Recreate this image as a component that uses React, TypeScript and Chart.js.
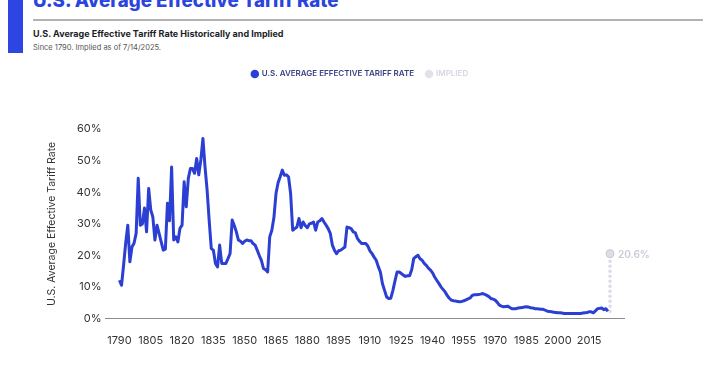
import React, { useEffect, useRef } from "react";
import { Chart, registerables } from "chart.js";

Chart.register(...registerables);

const years = [
  1790, 1791, 1792, 1793, 1794, 1795, 1796, 1797, 1798, 1799,
  1800, 1801, 1802, 1803, 1804, 1805, 1806, 1807, 1808, 1809,
  1810, 1811, 1812, 1813, 1814, 1815, 1816, 1817, 1818, 1819,
  1820, 1821, 1822, 1823, 1824, 1825, 1826, 1827, 1828, 1829,
  1830, 1831, 1832, 1833, 1834, 1835, 1836, 1837, 1838, 1839,
  1840, 1841, 1842, 1843, 1844, 1845, 1846, 1847, 1848, 1849,
  1850, 1851, 1852, 1853, 1854, 1855, 1856, 1857, 1858, 1859,
  1860, 1861, 1862, 1863, 1864, 1865, 1866, 1867, 1868, 1869,
  1870, 1871, 1872, 1873, 1874, 1875, 1876, 1877, 1878, 1879,
  1880, 1881, 1882, 1883, 1884, 1885, 1886, 1887, 1888, 1889,
  1890, 1891, 1892, 1893, 1894, 1895, 1896, 1897, 1898, 1899,
  1900, 1901, 1902, 1903, 1904, 1905, 1906, 1907, 1908, 1909,
  1910, 1911, 1912, 1913, 1914, 1915, 1916, 1917, 1918, 1919,
  1920, 1921, 1922, 1923, 1924, 1925, 1926, 1927, 1928, 1929,
  1930, 1931, 1932, 1933, 1934, 1935, 1936, 1937, 1938, 1939,
  1940, 1941, 1942, 1943, 1944, 1945, 1946, 1947, 1948, 1949,
  1950, 1951, 1952, 1953, 1954, 1955, 1956, 1957, 1958, 1959,
  1960, 1961, 1962, 1963, 1964, 1965, 1966, 1967, 1968, 1969,
  1970, 1971, 1972, 1973, 1974, 1975, 1976, 1977, 1978, 1979,
  1980, 1981, 1982, 1983, 1984, 1985, 1986, 1987, 1988, 1989,
  1990, 1991, 1992, 1993, 1994, 1995, 1996, 1997, 1998, 1999,
  2000, 2001, 2002, 2003, 2004, 2005, 2006, 2007, 2008, 2009,
  2010, 2011, 2012, 2013, 2014, 2015, 2016, 2017, 2018, 2019,
  2020, 2021, 2022, 2023, 2024,
];

const tariffRates = [
  12.2, 10.6, 17.0, 24.0, 29.6, 18.0, 22.7, 23.9, 27.0, 44.4,
  29.6, 30.0, 35.0, 27.5, 41.2, 34.4, 32.2, 24.9, 29.6, 27.0,
  24.3, 21.7, 22.0, 36.5, 31.0, 48.0, 24.9, 25.9, 24.3, 28.6,
  29.6, 43.3, 35.4, 44.4, 47.5, 47.5, 46.0, 50.7, 45.5, 50.2,
  57.0, 48.0, 40.7, 31.0, 22.2, 21.7, 17.5, 16.4, 23.3, 17.5,
  17.5, 17.5, 19.0, 20.6, 31.2, 29.5, 27.5, 24.9, 24.5, 23.8,
  24.5, 24.9, 24.7, 24.7, 23.8, 23.3, 21.7, 20.0, 18.5, 15.9,
  15.5, 14.8, 25.9, 28.0, 32.0, 39.6, 43.0, 44.9, 47.0, 45.4,
  45.5, 44.9, 39.6, 28.0, 28.5, 29.0, 31.7, 28.8, 30.6, 29.5,
  28.8, 30.0, 30.2, 30.6, 28.0, 30.6, 31.0, 31.7, 30.6, 29.6,
  28.5, 27.0, 23.3, 21.7, 20.6, 21.5, 21.7, 22.2, 22.7, 29.0,
  28.8, 28.5, 27.5, 27.2, 25.4, 24.5, 23.8, 23.8, 23.8, 23.0,
  21.5, 20.6, 19.5, 18.5, 16.5, 14.8, 11.1, 9.0, 6.9, 6.4,
  6.5, 9.0, 12.0, 14.8, 14.8, 14.3, 13.8, 13.4, 13.6, 13.6,
  15.5, 19.1, 19.6, 20.1, 19.0, 18.5, 17.5, 16.9, 16.0, 15.4,
  14.5, 13.2, 12.2, 11.2, 10.1, 9.3, 8.5, 7.4, 6.5, 5.9,
  5.7, 5.6, 5.5, 5.4, 5.5, 5.7, 6.0, 6.3, 6.6, 7.4,
  7.6, 7.6, 7.7, 7.8, 8.0, 7.7, 7.4, 7.0, 6.4, 6.2,
  5.9, 5.2, 4.3, 4.0, 3.8, 3.9, 4.0, 3.6, 3.2, 3.2,
  3.2, 3.4, 3.5, 3.6, 3.7, 3.8, 3.7, 3.5, 3.4, 3.2,
  3.2, 3.1, 3.0, 3.0, 2.7, 2.4, 2.3, 2.2, 2.1, 2.0,
  1.9, 1.9, 1.8, 1.7, 1.7, 1.7, 1.7, 1.7, 1.7, 1.7,
  1.7, 1.7, 1.8, 1.9, 2.0, 2.2, 2.2, 1.9, 2.5, 3.2,
  3.3, 3.4, 2.9, 3.2, 2.4,
];

const impliedYears = [2025, 2025];
const impliedRates = [2.4, 20.6];

const tickYears = [1790, 1805, 1820, 1835, 1850, 1865, 1880, 1895, 1910, 1925, 1940, 1955, 1970, 1985, 2000, 2015];
const yTicks = [0, 10, 20, 30, 40, 50, 60];

const seriesLabel = "U.S. AVERAGE EFFECTIVE TARIFF RATE";
const impliedLabel = "IMPLIED";

const BLUE = "#2c3fd3";
const GREY = "#d9dbe6";
const FONT = "Inter, 'Noto Sans', sans-serif";

const legendSpacing = {
  id: "legendSpacing",
  beforeInit(chart: any) {
    const orig = chart.legend.fit;
    chart.legend.fit = function () {
      orig.call(this);
      this.height += 41;
    };
  },
  afterLayout(chart: any) {
    const lg = chart.legend;
    if (!lg) return;
    lg.left = 0;
    lg.right = chart.width;
    lg.width = chart.width;
  },
};

const impliedLabelPlugin = {
  id: "impliedLabel",
  afterDatasetsDraw(chart: any) {
    const meta = chart.getDatasetMeta(1);
    const pt = meta.data[meta.data.length - 1];
    if (!pt) return;
    const ctx = chart.ctx;
    ctx.save();
    ctx.font = `600 10px ${FONT}`;
    ctx.fillStyle = "#c8cad8";
    ctx.textAlign = "left";
    ctx.textBaseline = "middle";
    ctx.fillText(`${impliedRates[impliedRates.length - 1]}%`, pt.x + 8, pt.y + 1);
    ctx.restore();
  },
};

export default function App() {
  const canvasRef = useRef<HTMLCanvasElement | null>(null);

  useEffect(() => {
    if (!canvasRef.current) return;
    const chart = new Chart(canvasRef.current, {
      type: "line",
      data: {
        datasets: [
          {
            label: seriesLabel,
            data: years.map((y, i) => ({ x: y, y: tariffRates[i] })),
            borderColor: BLUE,
            backgroundColor: BLUE,
            borderWidth: 3,
            pointRadius: 0,
            tension: 0,
            borderJoinStyle: "round",
            pointStyle: "circle",
          },
          {
            label: impliedLabel,
            data: impliedYears.map((y, i) => ({ x: y, y: impliedRates[i] })),
            borderColor: GREY,
            backgroundColor: GREY,
            borderWidth: 3.5,
            borderDash: [0, 5],
            borderCapStyle: "round",
            pointRadius: [0, 4],
            pointBackgroundColor: "#dcdee8",
            pointBorderColor: "#c6c8d6",
            pointBorderWidth: 1,
            pointStyle: "circle",
          },
        ],
      },
      options: {
        responsive: false,
        animation: false,
        layout: { padding: { top: 8, left: 46, right: 96, bottom: 18 } },
        plugins: {
          tooltip: { enabled: false },
          legend: {
            position: "top",
            align: "center",
            labels: {
              usePointStyle: true,
              pointStyle: "circle",
              boxWidth: 6,
              boxHeight: 6,
              padding: 12,
              font: { family: FONT, size: 8, weight: "600" },
              generateLabels: (c: any) => {
                const items = Chart.defaults.plugins.legend.labels.generateLabels(c);
                return items.map((it: any, i: number) => ({
                  ...it,
                  fillStyle: i === 0 ? BLUE : "#e0e2ea",
                  strokeStyle: i === 0 ? BLUE : "#e0e2ea",
                  lineWidth: 0,
                  lineDash: [],
                  fontColor: i === 0 ? "#3b4282" : "#d4d6e2",
                  pointStyle: "circle",
                }));
              },
            },
          },
        },
        scales: {
          x: {
            type: "linear",
            min: 1783.3,
            max: 2031.7,
            grid: { display: false, drawTicks: false },
            border: { display: true, color: "#8c8c8c", width: 1 },
            afterBuildTicks: (axis: any) => {
              axis.ticks = tickYears.map((v) => ({ value: v }));
            },
            ticks: {
              autoSkip: false,
              maxRotation: 0,
              padding: 15,
              color: "#333",
              font: { family: FONT, size: 11 },
              callback: (v: any) => String(v),
            },
          },
          y: {
            min: 0,
            max: 60,
            grid: { display: false, drawTicks: false },
            border: { display: false },
            afterBuildTicks: (axis: any) => {
              axis.ticks = yTicks.map((v) => ({ value: v }));
            },
            ticks: {
              padding: 4,
              color: "#333",
              font: { family: FONT, size: 11 },
              callback: (v: any) => `${v}%`,
            },
            title: {
              display: true,
              text: "U.S. Average Effective Tariff Rate",
              color: "#333",
              font: { family: FONT, size: 10.5 },
              padding: { top: 0, bottom: 14 },
            },
          },
        },
      },
      plugins: [legendSpacing, impliedLabelPlugin],
    } as any);
    return () => chart.destroy();
  }, []);

  return (
    <div
      style={{
        position: "fixed",
        left: 0,
        top: 0,
        width: 720,
        height: 380,
        background: "#fff",
        overflow: "hidden",
        fontFamily: FONT,
      }}
    >
      <div style={{ position: "absolute", left: 8, top: 0, width: 15, height: 53, background: "#2d46e3" }} />
      <div
        style={{
          position: "absolute",
          left: 33,
          top: -9,
          fontSize: 18.7,
          lineHeight: "19px",
          fontWeight: 800,
          color: "#2a44dd",
          whiteSpace: "nowrap",
        }}
      >
        U.S. Average Effective Tariff Rate
      </div>
      <div style={{ position: "absolute", left: 33, top: 19, width: 670, height: 1.5, background: "#b3b3b3" }} />
      <div
        style={{
          position: "absolute",
          left: 33,
          top: 28,
          fontSize: 9,
          lineHeight: "12px",
          fontWeight: 700,
          color: "#1d1d28",
          whiteSpace: "nowrap",
        }}
      >
        U.S. Average Effective Tariff Rate Historically and Implied
      </div>
      <div
        style={{
          position: "absolute",
          left: 33,
          top: 43,
          fontSize: 7.5,
          lineHeight: "10px",
          color: "#555",
          whiteSpace: "nowrap",
        }}
      >
        Since 1790. Implied as of 7/14/2025.
      </div>
      <canvas
        ref={canvasRef}
        width={720}
        height={330}
        style={{ position: "absolute", left: 0, top: 50, width: 720, height: 330 }}
      />
    </div>
  );
}
